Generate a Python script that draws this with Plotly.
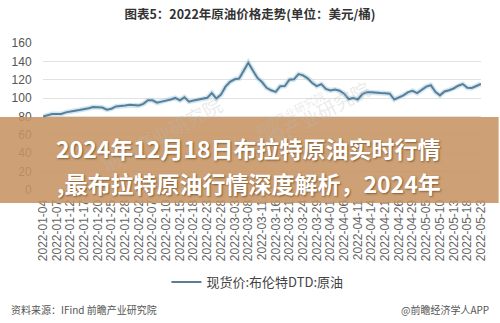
import pandas as pd
import plotly.graph_objects as go

# Trading days (UK calendar) for Brent DTD spot quotes
uk_holidays = ["2022-04-15", "2022-04-18", "2022-05-02"]
dates = pd.bdate_range("2022-01-04", "2022-05-23", freq="C",
                       holidays=uk_holidays).strftime("%Y-%m-%d").tolist()

# Brent DTD spot price, USD/bbl
brent = [
    80.0, 81.5, 82.7, 82.7, 82.7, 84.5, 85.8, 86.3, 87.0, 87.6,
    89.0, 90.3, 90.2, 89.8, 87.5, 88.5, 91.0, 91.3, 92.0, 92.9,
    92.2, 92.0, 93.8, 97.6, 97.6, 95.0, 96.2, 97.0, 98.5, 100.2,
    97.6, 100.9, 96.2, 97.5, 98.4, 99.2, 100.3, 105.5, 99.5, 103.8,
    112.5, 117.8, 120.5, 121.3, 129.5, 138.5, 130.0, 122.0, 117.5, 111.2,
    108.5, 106.8, 113.0, 113.2, 120.0, 120.5, 126.2, 124.8, 121.5, 116.5,
    113.0, 115.2, 110.0, 108.4, 109.4, 108.0, 104.8, 99.0, 100.2, 98.5,
    104.5, 106.5, 106.5, 105.7, 105.5, 105.3, 104.8, 98.5, 100.9, 103.0,
    106.5, 108.0, 105.5, 109.5, 112.5, 114.0, 106.8, 103.0, 107.3, 108.6,
    110.5, 113.5, 115.3, 111.2, 111.0, 113.2, 115.5,
]

tick_labels = [
    "2022-01-04", "2022-01-07", "2022-01-12", "2022-01-17", "2022-01-20",
    "2022-01-25", "2022-01-28", "2022-02-02", "2022-02-07", "2022-02-10",
    "2022-02-15", "2022-02-18", "2022-02-23", "2022-02-28", "2022-03-03",
    "2022-03-08", "2022-03-11", "2022-03-16", "2022-03-21", "2022-03-24",
    "2022-03-29", "2022-04-01", "2022-04-06", "2022-04-11", "2022-04-14",
    "2022-04-21", "2022-04-26", "2022-04-29", "2022-05-05", "2022-05-10",
    "2022-05-13", "2022-05-18", "2022-05-23",
]

series_name = "现货价:布伦特DTD:原油"
chart_title = "图表5：2022年原油价格走势(单位：美元/桶)"
source_text = "资料来源：IFind 前瞻产业研究院"
credit_text = "@前瞻经济学人APP"
banner_line1 = "2024年12月18日布拉特原油实时行情"
banner_line2 = ",最布拉特原油行情深度解析，2024年"
watermark = "前瞻产业研究院"

W, H = 500, 323
L, R, T, B = 40, 13, 43, 133
PW, PH = W - L - R, H - T - B


def px(x):
    return (x - L) / PW


def py(y):
    return (H - B - y) / PH


CJK = "Noto Sans CJK SC"
LAT = "Liberation Sans, Noto Sans CJK SC"

fig = go.Figure()
# soft halo under the price line
fig.add_trace(go.Scatter(
    x=dates, y=brent, mode="lines", showlegend=False, hoverinfo="skip",
    line=dict(color="rgba(170,212,232,0.55)", width=5),
))
fig.add_trace(go.Scatter(
    x=dates, y=brent, mode="lines", name=series_name,
    line=dict(color="#5b7e97", width=2),
))

fig.update_layout(
    width=W, height=H, autosize=False,
    margin=dict(l=L, r=R, t=T, b=B),
    paper_bgcolor="white", plot_bgcolor="white",
    title=dict(text=chart_title, x=0.5, xref="container", xanchor="center",
               y=1 - 15 / H, yref="container", yanchor="middle",
               font=dict(family=CJK, size=12.5, color="#333333", weight="bold")),
    showlegend=True,
    legend=dict(orientation="h", x=px(166), xanchor="left",
                y=py(282), yanchor="middle",
                font=dict(family=CJK, size=13, color="#444444"),
                bgcolor="rgba(0,0,0,0)", itemwidth=30),
    xaxis=dict(type="category", range=[0, len(dates) - 1],
               tickmode="array", tickvals=tick_labels, ticktext=tick_labels,
               tickangle=-90, tickfont=dict(family=LAT, size=12, color="#666666"),
               showgrid=False, zeroline=False, showline=False,
               ticks="outside", ticklen=4, tickcolor="rgba(0,0,0,0)"),
    yaxis=dict(range=[0, 160], dtick=20, showgrid=True, gridcolor="#e2e2e2",
               gridwidth=1, zeroline=False, showline=False,
               tickfont=dict(family=LAT, size=12, color="#555555"),
               ticks="outside", ticklen=8, tickcolor="rgba(0,0,0,0)"),
)

annotations = []
# faint watermarks
for wx, wy, size in [(92, 88, 19), (312, 72, 19), (292, 112, 11)]:
    annotations.append(dict(
        text=watermark, x=px(wx), y=py(wy), xref="paper", yref="paper",
        showarrow=False, textangle=-28,
        font=dict(family=CJK, size=size, color="rgba(185,185,185,0.30)"),
    ))

# footer
annotations.append(dict(
    text=source_text, x=px(5), y=py(309), xref="paper", yref="paper",
    xanchor="left", yanchor="middle", showarrow=False,
    font=dict(family=CJK, size=10, color="#555555"),
))
annotations.append(dict(
    text=credit_text, x=px(497), y=py(309), xref="paper", yref="paper",
    xanchor="right", yanchor="middle", showarrow=False,
    font=dict(family=CJK, size=10, color="#555555"),
))

# banner headline
shadow = "1px 1px 2px rgba(90,55,20,0.65)"
annotations.append(dict(
    text=banner_line1, x=px(250), y=py(148), xref="paper", yref="paper",
    xanchor="center", yanchor="middle", showarrow=False,
    font=dict(family=CJK, size=23, color="white", weight="bold", shadow=shadow),
))
annotations.append(dict(
    text=banner_line2, x=px(250), y=py(183), xref="paper", yref="paper",
    xanchor="center", yanchor="middle", showarrow=False,
    font=dict(family=CJK, size=23, color="white", weight="bold", shadow=shadow),
))
fig.update_layout(annotations=annotations)

fig.add_shape(
    type="rect", xref="paper", yref="paper",
    x0=px(-5), x1=px(W + 5), y0=py(203), y1=py(117),
    fillcolor="rgba(198,148,98,0.88)", line=dict(width=0), layer="above",
)

fig.write_html("out.html")
